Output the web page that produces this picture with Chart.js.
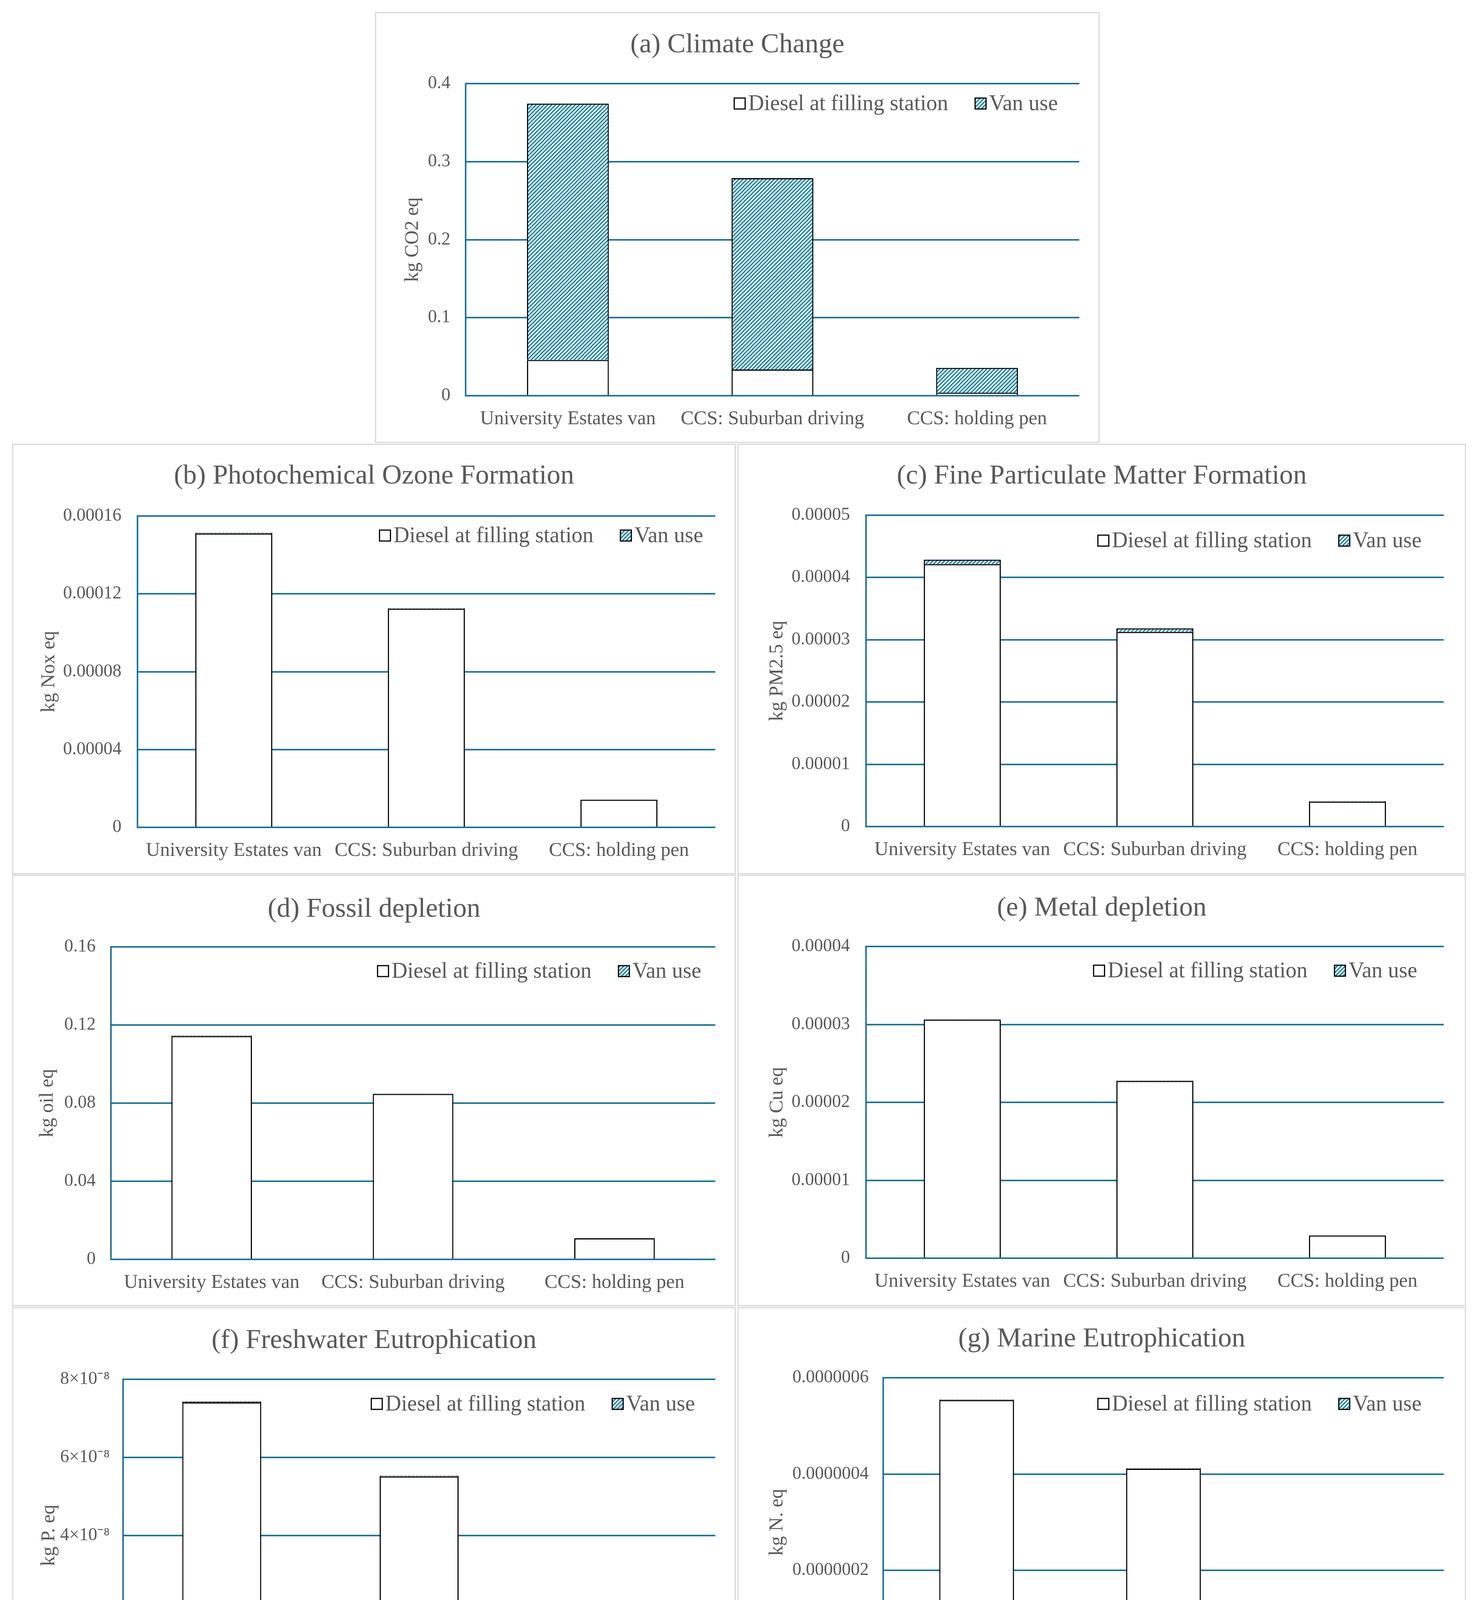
<!DOCTYPE html>
<html>
<head>
<meta charset="utf-8">
<script src="https://cdn.jsdelivr.net/npm/chart.js@4.4.1/dist/chart.umd.min.js"></script>
<style>
  html, body { margin: 0; padding: 0; background: #fff; }
  body { width: 3776px; height: 4471px; position: relative; overflow: hidden; }
  canvas { position: absolute; }
  .frame { position: absolute; box-sizing: border-box; border: 3px solid #d9d9d9; pointer-events: none; }
</style>
</head>
<body>
<script>
// categories and series
const categories = ['University Estates van', 'CCS: Suburban driving', 'CCS: holding pen'];
const marineCategories = ['University Estates van', ['CCS: Suburban', 'driving'], 'CCS: holding pen'];
const seriesNames = ['Diesel at filling station', 'Van use'];

// values
const climateDiesel = [0.0458, 0.0336, 0.0039];
const climateVan = [0.3285, 0.2452, 0.0318];
const ozoneDiesel = [0.0001510, 0.0001123, 0.0000142];
const ozoneVan = [0.0000004, 0.0000003, 0.00000005];
const particleDiesel = [0.00004215, 0.00003126, 0.00000400];
const particleVan = [0.00000072, 0.00000058, 0.00000008];
const fossilDiesel = [0.1143, 0.0847, 0.0108];
const fossilVan = [0.0003, 0.0002, 0.00003];
const metalDiesel = [0.00003060, 0.00002275, 0.00000292];
const metalVan = [0.00000006, 0.00000004, 0.000000005];
const freshDiesel = [7.41e-8, 5.51e-8, 0.70e-8];
const freshVan = [0.02e-8, 0.02e-8, 0.003e-8];
const marineDiesel = [5.535e-7, 4.11e-7, 0.53e-7];
const marineVan = [0.01e-7, 0.01e-7, 0.002e-7];

const GRID = '#1f7397';
const HATCH = '#1b84a8';
const TEXT = '#595959';
const FONT = '"Liberation Serif", "Times New Roman", serif';

Chart.defaults.font.family = FONT;
Chart.defaults.color = TEXT;

const fixed = d => v => v === 0 ? '0' : v.toFixed(d);
const sup8 = v => v === 0 ? '0' : Math.round(v / 1e-8) + '×10⁻⁸';

const panels = [
  { title: '(a) Climate Change', yTitle: 'kg CO2 eq', labels: categories, diesel: climateDiesel, van: climateVan,
    max: 0.4, step: 0.1, fmt: fixed(1),
    box: { x: 960, y: 31, w: 1855, h: 1103 }, plot: { l: 232, t: 183, r: 1803, b: 982 },
    titleY: 85, yTitleX: 97, tickPad: 39, legend: { right: 55, offset: 51 } },
  { title: '(b) Photochemical Ozone Formation', yTitle: 'kg Nox eq', labels: categories, diesel: ozoneDiesel, van: ozoneVan,
    max: 0.00016, step: 0.00004, fmt: fixed(5),
    box: { x: 31, y: 1136, w: 1853, h: 1102 }, plot: { l: 321, t: 185, r: 1800, b: 982 },
    titleY: 84, yTitleX: 95, tickPad: 41, legend: { right: 31, offset: 50 } },
  { title: '(c) Fine Particulate Matter Formation', yTitle: 'kg PM2.5 eq', labels: categories, diesel: particleDiesel, van: particleVan,
    max: 0.00005, step: 0.00001, fmt: fixed(5),
    box: { x: 1888, y: 1136, w: 1865, h: 1102 }, plot: { l: 329, t: 183, r: 1808, b: 980 },
    titleY: 84, yTitleX: 102, tickPad: 41, legend: { right: 57, offset: 65 } },
  { title: '(d) Fossil depletion', yTitle: 'kg oil eq', labels: categories, diesel: fossilDiesel, van: fossilVan,
    max: 0.16, step: 0.04, fmt: fixed(2),
    box: { x: 31, y: 2239, w: 1853, h: 1105 }, plot: { l: 253, t: 185, r: 1800, b: 985 },
    titleY: 90, yTitleX: 91, tickPad: 39, legend: { right: 36, offset: 62 } },
  { title: '(e) Metal depletion', yTitle: 'kg Cu eq', labels: categories, diesel: metalDiesel, van: metalVan,
    max: 0.00004, step: 0.00001, fmt: fixed(5),
    box: { x: 1888, y: 2239, w: 1865, h: 1105 }, plot: { l: 329, t: 184, r: 1808, b: 982 },
    titleY: 87, yTitleX: 102, tickPad: 41, legend: { right: 68, offset: 62 } },
  { title: '(f) Freshwater Eutrophication', yTitle: 'kg P. eq', labels: categories, diesel: freshDiesel, van: freshVan,
    max: 8e-8, step: 2e-8, fmt: sup8,
    box: { x: 31, y: 3346, w: 1853, h: 1105 }, plot: { l: 284, t: 185, r: 1800, b: 984 },
    titleY: 87, yTitleX: 95, tickPad: 34, legend: { right: 52, offset: 63 } },
  { title: '(g) Marine Eutrophication', yTitle: 'kg N. eq', labels: marineCategories, diesel: marineDiesel, van: marineVan,
    max: 6e-7, step: 2e-7, fmt: fixed(7),
    box: { x: 1888, y: 3346, w: 1865, h: 1105 }, plot: { l: 373, t: 181, r: 1808, b: 921 },
    titleY: 83, yTitleX: 102, tickPad: 37, legend: { right: 57, offset: 67 } }
];

// legend drawn inside the plot, top right, like the Excel original
const insideLegend = {
  id: 'insideLegend',
  afterDraw(chart, args, opts) {
    const ctx = chart.ctx;
    const area = chart.chartArea;
    const box = 28, gap = 8, spacing = 69;
    ctx.save();
    ctx.font = opts.size + 'px ' + FONT;
    const items = chart.data.datasets.map(d => ({ text: d.label, fill: d.backgroundColor, w: ctx.measureText(d.label).width }));
    const total = items.reduce((s, it) => s + box + gap + it.w, 0) + spacing * (items.length - 1);
    let x = area.right - opts.right - total;
    const y = area.top + opts.offset;
    items.forEach(it => {
      ctx.fillStyle = it.fill;
      ctx.fillRect(x, y - box / 2, box, box);
      ctx.strokeStyle = '#000';
      ctx.lineWidth = 3;
      ctx.strokeRect(x, y - box / 2, box, box);
      ctx.fillStyle = TEXT;
      ctx.textAlign = 'left';
      ctx.textBaseline = 'middle';
      ctx.fillText(it.text, x + box + gap, y + 2);
      x += box + gap + it.w + spacing;
    });
    ctx.restore();
  }
};

function makeHatch(ctx) {
  const tile = document.createElement('canvas');
  tile.width = 10; tile.height = 10;
  const g = tile.getContext('2d');
  g.fillStyle = '#fff';
  g.fillRect(0, 0, 10, 10);
  g.strokeStyle = HATCH;
  g.lineWidth = 3.4;
  g.beginPath();
  g.moveTo(-2, 12); g.lineTo(12, -2);
  g.moveTo(-2, 2); g.lineTo(2, -2);
  g.moveTo(8, 12); g.lineTo(12, 8);
  g.stroke();
  return ctx.createPattern(tile, 'repeat');
}

function buildPanel(p) {
  const frame = document.createElement('div');
  frame.className = 'frame';
  Object.assign(frame.style, { left: p.box.x + 'px', top: p.box.y + 'px', width: p.box.w + 'px', height: p.box.h + 'px' });

  const canvas = document.createElement('canvas');
  canvas.width = p.box.w;
  canvas.height = p.box.h;
  Object.assign(canvas.style, { left: p.box.x + 'px', top: p.box.y + 'px', width: p.box.w + 'px', height: p.box.h + 'px' });
  document.body.appendChild(canvas);
  document.body.appendChild(frame);

  const ctx = canvas.getContext('2d');
  const hatch = makeHatch(ctx);

  new Chart(ctx, {
    type: 'bar',
    data: {
      labels: p.labels,
      datasets: [
        { label: seriesNames[0], data: p.diesel, backgroundColor: '#ffffff', borderColor: '#000', borderWidth: 3 },
        { label: seriesNames[1], data: p.van, backgroundColor: hatch, borderColor: '#000', borderWidth: 3 }
      ]
    },
    options: {
      responsive: false,
      animation: false,
      devicePixelRatio: 1,
      layout: { padding: 0 },
      datasets: { bar: { barPercentage: 0.4, categoryPercentage: 1.0 } },
      plugins: {
        legend: { display: false },
        tooltip: { enabled: false },
        title: {
          display: true,
          text: p.title,
          color: TEXT,
          font: { size: 70, weight: 'normal', lineHeight: 1.2 },
          padding: { top: p.titleY - 42, bottom: p.plot.t - p.titleY - 42 }
        },
        insideLegend: { size: 56, right: p.legend.right, offset: p.legend.offset }
      },
      scales: {
        x: {
          stacked: true,
          grid: { display: false, drawTicks: false },
          border: { display: false },
          ticks: { padding: 31, color: TEXT, font: { size: 50, lineHeight: 1.15 }, maxRotation: 0, autoSkip: false },
          afterFit: s => { s.height = p.box.h - p.plot.b; }
        },
        y: {
          stacked: true,
          min: 0,
          max: p.max,
          grid: { color: GRID, lineWidth: 4, drawTicks: false },
          border: { display: true, color: GRID, width: 4 },
          ticks: { stepSize: p.step, padding: p.tickPad, color: TEXT, font: { size: 46 }, callback: p.fmt },
          title: { display: true, text: p.yTitle, color: TEXT, font: { size: 50, lineHeight: 1.2 }, padding: { top: p.yTitleX - 30, bottom: 0 } },
          afterFit: s => { s.width = p.plot.l; }
        },
        // empty right-hand axis: keeps the plot clear of the right edge while the title stays centred on the panel
        right: {
          type: 'linear',
          position: 'right',
          display: true,
          grid: { display: false, drawTicks: false },
          border: { display: false },
          ticks: { display: false },
          afterFit: s => { s.width = p.box.w - p.plot.r; }
        }
      }
    },
    plugins: [insideLegend]
  });
}

panels.forEach(buildPanel);
</script>
</body>
</html>
